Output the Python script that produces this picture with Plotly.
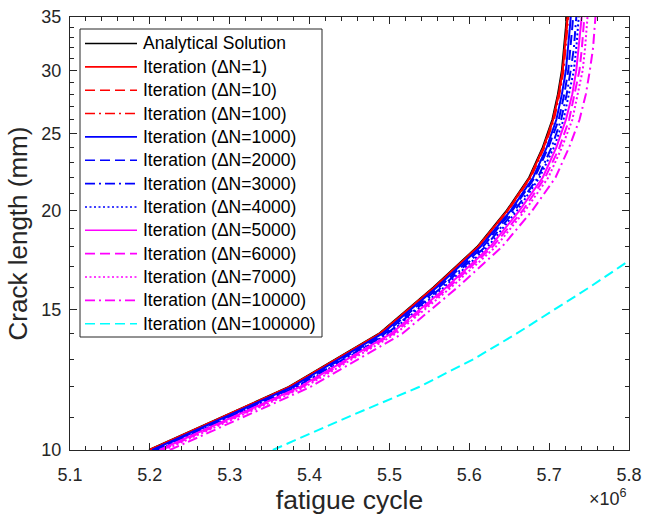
import plotly.graph_objects as go

# crack length (mm) at which each curve was sampled
crack_mm = [10, 12, 14, 16, 18, 20, 22, 24, 26, 28, 30, 32, 34, 36]

# fatigue cycles (x 1e6), one list per curve
n_analytical = [5.199, 5.374, 5.487, 5.555, 5.610, 5.647, 5.675, 5.692, 5.704, 5.711, 5.716, 5.719, 5.721, 5.723]
n_dn1 = [5.200, 5.375, 5.488, 5.556, 5.611, 5.648, 5.676, 5.693, 5.705, 5.712, 5.717, 5.720, 5.722, 5.724]
n_dn10 = [5.200, 5.375, 5.488, 5.556, 5.611, 5.648, 5.676, 5.693, 5.705, 5.712, 5.717, 5.720, 5.722, 5.724]
n_dn100 = [5.200, 5.375, 5.489, 5.557, 5.612, 5.649, 5.677, 5.694, 5.706, 5.713, 5.718, 5.721, 5.723, 5.725]
n_dn1000 = [5.203, 5.378, 5.491, 5.559, 5.614, 5.652, 5.680, 5.697, 5.709, 5.716, 5.721, 5.724, 5.726, 5.728]
n_dn2000 = [5.205, 5.380, 5.494, 5.562, 5.617, 5.654, 5.682, 5.699, 5.712, 5.719, 5.724, 5.727, 5.729, 5.731]
n_dn3000 = [5.207, 5.383, 5.497, 5.565, 5.620, 5.657, 5.686, 5.703, 5.715, 5.722, 5.727, 5.731, 5.733, 5.735]
n_dn4000 = [5.210, 5.385, 5.499, 5.568, 5.623, 5.660, 5.688, 5.706, 5.718, 5.725, 5.731, 5.734, 5.736, 5.738]
n_dn5000 = [5.212, 5.388, 5.502, 5.571, 5.626, 5.663, 5.692, 5.709, 5.721, 5.729, 5.734, 5.737, 5.740, 5.742]
n_dn6000 = [5.215, 5.391, 5.505, 5.574, 5.629, 5.667, 5.695, 5.713, 5.725, 5.732, 5.738, 5.741, 5.743, 5.745]
n_dn7000 = [5.218, 5.394, 5.508, 5.577, 5.633, 5.670, 5.699, 5.716, 5.729, 5.736, 5.742, 5.745, 5.747, 5.749]
n_dn10000 = [5.225, 5.401, 5.516, 5.585, 5.641, 5.679, 5.708, 5.725, 5.738, 5.746, 5.751, 5.755, 5.757, 5.759]

# the coarse step curve only reaches ~17 mm inside the window
crack_mm_dn100000 = [10, 11, 12, 13, 14, 15, 16, 17, 18]
n_dn100000 = [5.354, 5.448, 5.537, 5.605, 5.659, 5.706, 5.750, 5.789, 5.826]

y_ticks = [10, 15, 20, 25, 30, 35]
y_minor = [11, 12, 13, 14, 16, 17, 18, 19, 21, 22, 23, 24, 26, 27, 28, 29, 31, 32, 33, 34]

# nome, x, y, cor, tracejado
curvas = [
    ('Analytical Solution', n_analytical, crack_mm, '#000000', 'solid'),
    ('Iteration (ΔN=1)', n_dn1, crack_mm, '#ff0000', 'solid'),
    ('Iteration (ΔN=10)', n_dn10, crack_mm, '#ff0000', '10px,5px'),
    ('Iteration (ΔN=100)', n_dn100, crack_mm, '#ff0000', '10px,4px,2px,4px'),
    ('Iteration (ΔN=1000)', n_dn1000, crack_mm, '#0000ff', 'solid'),
    ('Iteration (ΔN=2000)', n_dn2000, crack_mm, '#0000ff', '10px,5px'),
    ('Iteration (ΔN=3000)', n_dn3000, crack_mm, '#0000ff', '10px,4px,2px,4px'),
    ('Iteration (ΔN=4000)', n_dn4000, crack_mm, '#0000ff', '2px,2.5px'),
    ('Iteration (ΔN=5000)', n_dn5000, crack_mm, '#ff00ff', 'solid'),
    ('Iteration (ΔN=6000)', n_dn6000, crack_mm, '#ff00ff', '10px,5px'),
    ('Iteration (ΔN=7000)', n_dn7000, crack_mm, '#ff00ff', '2px,2.5px'),
    ('Iteration (ΔN=10000)', n_dn10000, crack_mm, '#ff00ff', '10px,4px,2px,4px'),
    ('Iteration (ΔN=100000)', n_dn100000, crack_mm_dn100000, '#00ffff', '10px,5px'),
]

fig = go.Figure()
for nome, x, y, cor, tracejado in curvas:
    fig.add_trace(go.Scatter(x=x, y=y, name=nome, mode='lines', showlegend=False,
                             line=dict(color=cor, width=2, dash=tracejado)))

# legenda desenhada a mao (espacamento igual ao do matlab)
L, T, W, H = 70, 17, 559, 433  # area do grafico em pixels


def px(x):
    return (x - L) / W


def py(y):
    return (T + H - y) / H


caixa_esq, caixa_dir, caixa_topo, caixa_base = 80, 322, 29, 337
fig.add_shape(type='rect', xref='paper', yref='paper',
              x0=px(caixa_esq), x1=px(caixa_dir), y0=py(caixa_base), y1=py(caixa_topo),
              line=dict(color='#262626', width=1), fillcolor='white', layer='above')
for i, (nome, x, y, cor, tracejado) in enumerate(curvas):
    yc = 43.5 + i * 23.35
    fig.add_shape(type='line', xref='paper', yref='paper',
                  x0=px(85), x1=px(137), y0=py(yc), y1=py(yc),
                  line=dict(color=cor, width=1.6, dash=tracejado), layer='above')
    fig.add_annotation(text=nome, xref='paper', yref='paper', x=px(141), y=py(yc),
                       xanchor='left', yanchor='middle', showarrow=False,
                       font=dict(size=17.5, color='#000000'))

eixo = dict(showgrid=False, zeroline=False, showline=True, linecolor='#262626', linewidth=1,
            mirror='ticks', ticks='inside', ticklen=7, tickwidth=1, tickcolor='#262626',
            tickfont=dict(size=18, color='#262626'), automargin=False)

fig.update_xaxes(eixo, range=[5.1, 5.8], dtick=0.1, tickformat='.1f', ticklabelstandoff=8,
                 minor=dict(dtick=0.02, ticks='inside', ticklen=4, tickcolor='#262626'),
                 title=dict(text='fatigue cycle', font=dict(size=26.5, color='#262626'), standoff=6))
fig.update_yaxes(eixo, type='log', range=[1, 1.544068], tickvals=y_ticks, ticktext=[str(v) for v in y_ticks],
                 ticklabelstandoff=4,
                 minor=dict(tickvals=y_minor, ticks='inside', ticklen=4, tickcolor='#262626'),
                 title=dict(text='Crack length (mm)', font=dict(size=26, color='#262626'), standoff=6))

fig.add_annotation(text='×10<sup>6</sup>', xref='paper', yref='paper', x=1.0, y=-0.078,
                   xanchor='right', yanchor='top', showarrow=False,
                   font=dict(size=18, color='#262626'))

fig.update_layout(
    width=646, height=520,
    margin=dict(l=70, r=17, t=17, b=70),
    paper_bgcolor='white', plot_bgcolor='white',
    font=dict(family='Liberation Sans, Arial, sans-serif', color='#000000'),
    showlegend=False,
)

# tira a margem padrao do body para o grafico ocupar a janela toda
fig.write_html('out.html', config={'displayModeBar': False},
               post_script="document.body.style.margin='0px';")
